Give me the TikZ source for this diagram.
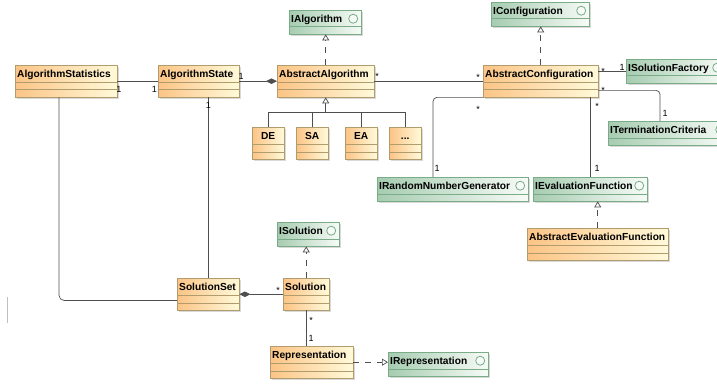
\documentclass[tikz,border=0pt]{standalone}
\usepackage{fontspec}
\newfontfamily\umlfont{Liberation Sans}
\usepackage{tikz}
\usetikzlibrary{calc,shadows,arrows.meta}

\definecolor{clsL}{RGB}{252,196,134}
\definecolor{clsR}{RGB}{255,250,218}
\definecolor{clsLine}{RGB}{176,156,108}
\definecolor{itfL}{RGB}{166,204,176}
\definecolor{itfR}{RGB}{247,251,247}
\definecolor{itfLine}{RGB}{122,172,136}
\definecolor{wireC}{RGB}{78,78,78}

\newcommand{\ttlfont}{\umlfont\bfseries\fontsize{10.2}{12}\selectfont}
\newcommand{\multfont}{\umlfont\fontsize{9}{10}\selectfont}

\tikzset{
  box/.style={anchor=north west, inner xsep=2pt, inner ysep=2.5pt,
    text width=#1, align=left, text height=9.5pt, font=\ttlfont,
    drop shadow={shadow xshift=1.5pt, shadow yshift=-1.5pt, opacity=.3}},
  cls/.style={box=#1, draw=clsLine, left color=clsL, right color=clsR,
    text depth=17.5pt,
    path picture={
      \draw[clsLine] ([yshift=-17pt]path picture bounding box.north west)
        -- ([yshift=-17pt]path picture bounding box.north east);
      \draw[clsLine] ([yshift=-24.5pt]path picture bounding box.north west)
        -- ([yshift=-24.5pt]path picture bounding box.north east);}},
  itf/.style={box=#1, draw=itfLine, left color=itfL, right color=itfR,
    text depth=9.5pt,
    path picture={
      \draw[itfLine] ([yshift=-16.5pt]path picture bounding box.north west)
        -- ([yshift=-16.5pt]path picture bounding box.north east);
      \draw[itfLine, line width=.8pt, fill=itfR] ([xshift=-8pt,yshift=-8.5pt]path picture bounding box.north east) circle (4.5pt);}},
  mult/.style={font=\multfont, inner sep=0pt},
  assoc/.style={draw=wireC, line width=.7pt},
  comp/.style={assoc, -{Diamond[length=11pt, width=5.5pt, fill=wireC]}},
  inherit/.style={assoc, -{Triangle[open, length=6pt, width=7pt, fill=white]}},
  realize/.style={inherit, dash pattern=on 6pt off 6pt}
}

\begin{document}
\begin{tikzpicture}[x=1pt, y=-1pt]
  \useasboundingbox (0,0) rectangle (717,385);
  \clip (0,0) rectangle (717,385);

  % algorithm side
  \node[cls=98pt] (stats) at (15,65) {AlgorithmStatistics};
  \node[cls=77pt] (state) at (158,65) {AlgorithmState};
  \node[cls=93pt] (absalg) at (277,65) {AbstractAlgorithm};
  \node[itf=68pt] (ialg) at (289,10) {IAlgorithm};
  \node[cls=28pt, align=center] (de) at (252,127) {DE};
  \node[cls=28pt, align=center] (sa) at (296,127) {SA};
  \node[cls=28pt, align=center] (ea) at (345,127) {EA};
  \node[cls=28pt, align=center] (etc) at (389,127) {...};

  % configuration side
  \node[cls=111pt] (abscfg) at (483,65) {AbstractConfiguration};
  \node[itf=94pt] (icfg) at (491,2) {IConfiguration};
  \node[itf=95pt] (isfac) at (626,59) {ISolutionFactory};
  \node[itf=116pt] (iterm) at (608,121) {ITerminationCriteria};
  \node[itf=147pt] (irng) at (377,177) {IRandomNumberGenerator};
  \node[itf=110pt] (ieval) at (533,177) {IEvaluationFunction};
  \node[cls=137pt] (absevl) at (527,228) {AbstractEvaluationFunction};

  % solutions
  \node[itf=58pt] (isol) at (277,222) {ISolution};
  \node[cls=58pt] (solset) at (177,278) {SolutionSet};
  \node[cls=42pt] (sol) at (283,278) {Solution};
  \node[cls=79pt] (repr) at (270,346) {Representation};
  \node[itf=96pt] (irep) at (388,352) {IRepresentation};

  \coordinate (fork) at ($(absalg.south)+(0,15)$);
  \coordinate (itermin) at ($(iterm.north west)+(52,0)$);
  \coordinate (irngin) at ($(irng.north west)+(56,0)$);

  % connectors
  \draw[assoc] (stats.east) -- (state.west);
  \draw[comp] (state.east) -- (absalg.west);
  \draw[assoc] (absalg.east) -- (abscfg.west);
  \draw[realize] (absalg.north) -- (absalg.north |- ialg.south);
  \foreach \n in {de,sa,ea,etc}
    \draw[assoc] (\n.north) |- (fork);
  \draw[inherit] (fork) -- (absalg.south);
  \draw[realize] (abscfg.north) -- (abscfg.north |- icfg.south);
  \draw[assoc] (abscfg.east |- isfac.west) -- (isfac.west);
  \draw[assoc, rounded corners=4pt] ($(abscfg.south east)+(0,-7)$) -| (itermin);
  \draw[assoc] (abscfg.south -| ieval.north) -- (ieval.north);
  \draw[assoc, rounded corners=4pt] (abscfg.south west) -| (irngin);
  \draw[realize] (absevl.north) -- (absevl.north |- ieval.south);
  \draw[assoc] (solset.north |- state.south) -- (solset.north);
  \draw[assoc, rounded corners=5pt] ($(stats.south west)+(44,0)$) |- ($(solset.south west)+(0,-10)$);
  \draw[comp] (sol.west) -- (solset.east);
  \draw[realize] (sol.north) -- (sol.north |- isol.south);
  \draw[assoc] (sol.south) -- (sol.south |- repr.north);
  \draw[realize] (repr.east) -- (repr.east -| irep.west);

  % multiplicities
  \node[mult] (m1) at (119,89) {1};
  \node[mult] (m2) at (154.5,89) {1};
  \node[mult] (m3) at (241,76) {1};
  \node[mult] (m4) at (208.5,105) {1};
  \node[mult] (m5) at (377,76) {*};
  \node[mult] (m6) at (478,77) {*};
  \node[mult] (m7) at (603,71) {*};
  \node[mult] (m8) at (622,67) {1};
  \node[mult] (m9) at (603,90) {*};
  \node[mult] (m10) at (665,113) {1};
  \node[mult] (m11) at (478,109) {*};
  \node[mult] (m12) at (597,106) {*};
  \node[mult] (m13) at (437,168) {1};
  \node[mult] (m14) at (597,168) {1};
  \node[mult] (m15) at (278,290) {*};
  \node[mult] (m16) at (311,320) {*};
  \node[mult] (m17) at (311,338) {1};

  % stray mark at the left edge
  \draw[black!25, line width=.8pt] (7,297) -- (7,323);
\end{tikzpicture}
\end{document}
